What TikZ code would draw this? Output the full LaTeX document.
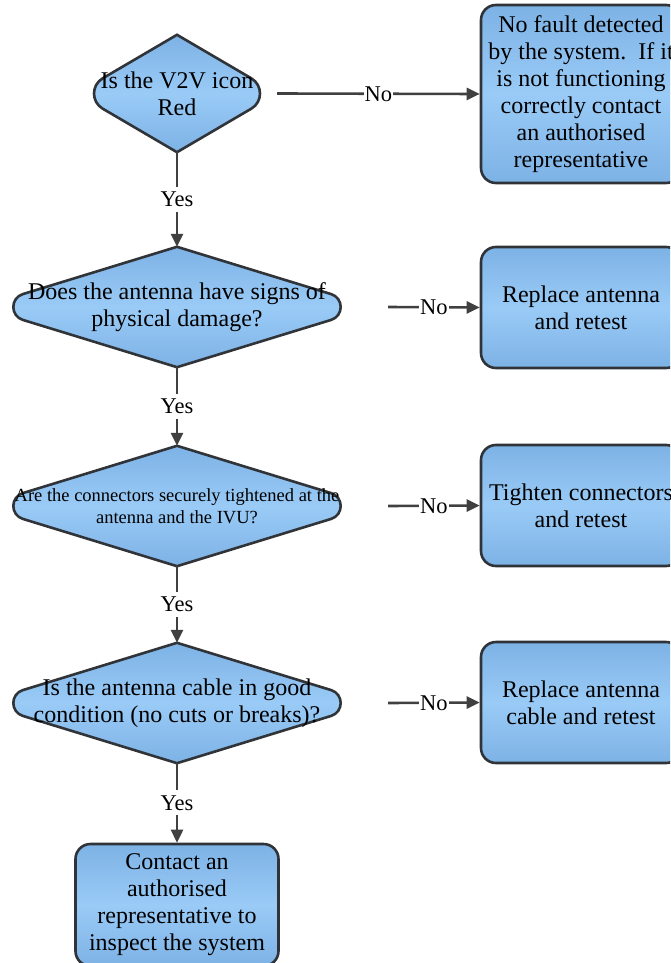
\documentclass[tikz,border=0pt]{standalone}
\usepackage{fontspec}
\setmainfont{Liberation Serif}
\usetikzlibrary{arrows.meta, positioning, calc, backgrounds}
\definecolor{flowblue}{RGB}{125,178,229}
\definecolor{flowlight}{RGB}{154,203,247}
\definecolor{flowedge}{RGB}{48,52,56}
\definecolor{flowline}{RGB}{64,64,64}
\tikzset{
  bluefill/.style = {top color=flowblue, bottom color=flowblue, middle color=flowlight},
  decision/.style = {rectangle, inner sep=0pt, align=center,
                     font=\fontsize{24}{27}\selectfont},
  outcome/.style  = {rectangle, rounded corners=15pt, draw=flowedge, line width=2.6pt,
                     bluefill, inner sep=0pt, align=center, minimum width=200pt,
                     font=\fontsize{24}{27}\selectfont},
  flow/.style     = {-{Triangle[length=13pt,width=12pt]}, line width=2.6pt, color=flowline},
  lbl/.style      = {fill=white, text=black, inner xsep=1pt, inner ysep=5pt,
                     font=\fontsize{22.5}{26}\selectfont},
}

\begin{document}
\begin{tikzpicture}[x=1pt, y=1pt]
  \useasboundingbox (0,0) rectangle (670,-963);
  \clip (0,0) rectangle (670,-963);
  % questions
  \node[decision, minimum width=200pt, minimum height=117pt] (q1) at (177,-93.5)
    {Is the V2V icon\\Red};
  \node[decision, minimum width=392pt, minimum height=120pt] (q2) at (177,-307)
    {Does the antenna have signs of\\physical damage?};
  \node[decision, minimum width=392pt, minimum height=120pt,
        font=\fontsize{18.5}{22}\selectfont] (q3) at (177,-506)
    {Are the connectors securely tightened at the\\antenna and the IVU?};
  \node[decision, minimum width=392pt, minimum height=120pt] (q4) at (177,-703)
    {Is the antenna cable in good\\condition (no cuts or breaks)?};
  % outlines of the questions, round at the sides only
  \begin{scope}[on background layer]
    \foreach \q/\d/\c in {q1/30pt/16.6pt, q2/44pt/30.7pt, q3/44pt/30.7pt, q4/44pt/30.7pt}
      \draw[draw=flowedge, line width=2.6pt, bluefill]
        (\q.north) -- ($(\q.east)!\d!(\q.north)$)
        .. controls ($(\q.east)!\c!(\q.north)$) and ($(\q.east)!\c!(\q.south)$)
        .. ($(\q.east)!\d!(\q.south)$)
        -- (\q.south) -- ($(\q.west)!\d!(\q.south)$)
        .. controls ($(\q.west)!\c!(\q.south)$) and ($(\q.west)!\c!(\q.north)$)
        .. ($(\q.west)!\d!(\q.north)$) -- cycle;
  \end{scope}
  % outcomes
  \node[outcome, minimum height=178pt] (b1) at (581,-94)
    {No fault detected\\by the system.\ \ If it\\is not functioning\\correctly contact\\an authorised\\representative};
  \node[outcome, minimum height=121pt] (b2) at (581,-307.5) {Replace antenna\\and retest};
  \node[outcome, minimum height=121pt] (b3) at (581,-505.5) {Tighten connectors\\and retest};
  \node[outcome, minimum height=121pt] (b4) at (581,-702.5) {Replace antenna\\cable and retest};
  \node[outcome, minimum width=203pt, minimum height=122pt] (fin) at (177,-905)
    {Contact an\\authorised\\representative to\\inspect the system};
  % connectors
  \foreach \a/\b in {q1/q2, q2/q3, q3/q4, q4/fin}
    \draw[flow] (\a.south) -- (\b.north) node[lbl, midway] {Yes};
  \foreach \a/\b/\s in {q1/b1/0pt, q2/b2/15pt, q3/b3/15pt, q4/b4/15pt}
    \draw[flow] ([xshift=\s]\a.east) -- (\b.west) node[lbl, midway] {No};
\end{tikzpicture}
\end{document}
